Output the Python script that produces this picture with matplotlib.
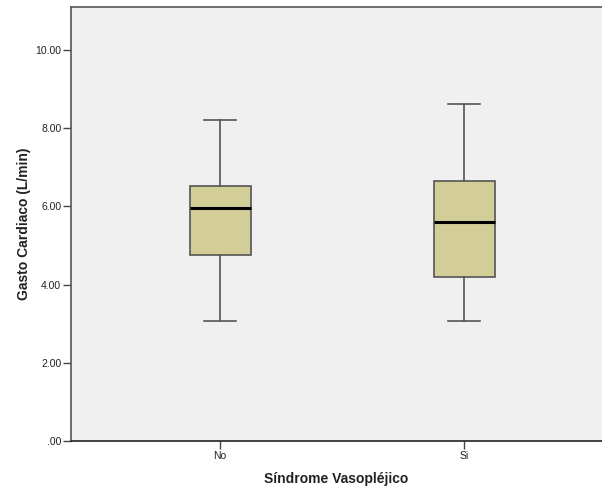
import matplotlib
matplotlib.use("Agg")
import matplotlib.pyplot as plt
from matplotlib.ticker import FuncFormatter

categories = ["No", "Si"]
whislo = [3.08, 3.08]
q1 = [4.75, 4.19]
med = [5.95, 5.59]
q3 = [6.53, 6.65]
whishi = [8.20, 8.62]
yticks = [0, 2, 4, 6, 8, 10]

plt.rcParams['font.family'] = ['Liberation Sans', 'DejaVu Sans']

W, H = 602, 491
fig = plt.figure(figsize=(W/100, H/100), dpi=100)
fig.patch.set_facecolor('white')
ax = fig.add_axes([71/W, 1-441/H, (602-71)/W, (441-7)/H])
ax.set_facecolor('#F0F0F0')

stats = []
for i, c in enumerate(categories):
    stats.append(dict(label=c, whislo=whislo[i], q1=q1[i], med=med[i],
                      q3=q3[i], whishi=whishi[i], fliers=[]))

ax.bxp(stats, positions=[1, 2], widths=0.25, patch_artist=True,
       showfliers=False,
       boxprops=dict(facecolor='#D3CE98', edgecolor='#555555', linewidth=1.2),
       medianprops=dict(color='black', linewidth=2.2),
       whiskerprops=dict(color='#555555', linewidth=1.2),
       capprops=dict(color='#555555', linewidth=1.2),
       capwidths=0.135)

ax.set_xlim(1 - 149/244, 2 + 138/244)
ax.set_ylim(0, 11.1)
ax.set_yticks(yticks)
ax.yaxis.set_major_formatter(FuncFormatter(lambda v, p: ".00" if v == 0 else f"{v:.2f}"))
ax.set_xticks([1, 2])
ax.set_xticklabels(categories)

for s in ['top', 'left', 'bottom']:
    ax.spines[s].set_color('#555555')
    ax.spines[s].set_linewidth(1.2)
ax.spines['bottom'].set_color('#222222')
ax.spines['right'].set_visible(False)

ax.tick_params(axis='both', direction='out', length=6, width=1, color='#444444',
               labelsize=7.5, labelcolor='#222222', pad=1)

ax.set_xlabel("Síndrome Vasopléjico", fontsize=10, fontweight='bold', color='#222222', labelpad=8)
ax.set_ylabel("Gasto Cardiaco (L/min)", fontsize=10, fontweight='bold', color='#222222', labelpad=3)

fig.savefig("out.png", dpi=100)
